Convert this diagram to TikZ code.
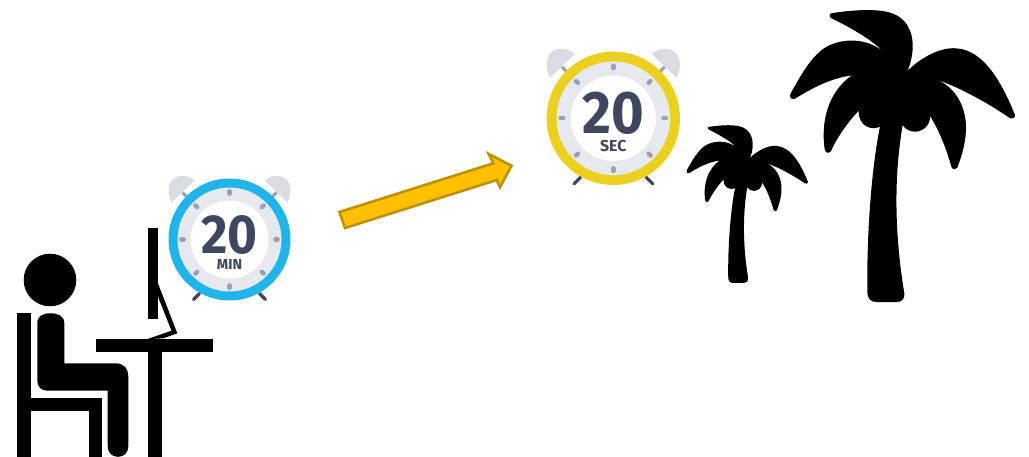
\documentclass[tikz,border=0pt]{standalone}
\usepackage{fontspec}
\setmainfont{Fira Sans}
\definecolor{ringblue}{HTML}{1FB4EA}
\definecolor{ringyellow}{HTML}{EBD01F}
\definecolor{facegrey}{HTML}{E6E9ED}
\definecolor{bellgrey}{HTML}{D9DDE1}
\definecolor{tickgrey}{HTML}{9AA0BA}
\definecolor{inkdark}{HTML}{3E4660}
\definecolor{arrowfill}{HTML}{FFC000}
\definecolor{arrowline}{HTML}{BF9000}
\tikzset{
    clocktick/.style={tickgrey, line width=4.4, line cap=round},
    clockfoot/.style={inkdark, line width=3.2, line cap=round},
    pics/alarmclock/.style n args={3}{code={
        \foreach \s in {1,-1} {
            \fill[bellgrey] (\s*35,-59) .. controls (\s*42,-65) and (\s*52,-65) .. (\s*57,-60)
                .. controls (\s*62,-55) and (\s*62,-45) .. (\s*58,-37) -- cycle;
            \draw[tickgrey, line width=3] (\s*47,-47) -- (\s*40,-40);
            \draw[clockfoot] (\s*30,54) -- (\s*36,60);
        }
        \fill[#1] (0,0) circle (61);
        \fill[facegrey] (0,0) circle (52);
        \fill[white] (0,0) circle (39);
        \foreach \a in {0,45,...,315} {
            \draw[clocktick, rotate=\a] (0,-45.8) -- (0,-48.2);
        }
        \node[inkdark, transform shape, xscale=.93, inner sep=0, font=\fontsize{55}{55}\selectfont\bfseries] (-number) at (0,-5) {#2};
        \node[inkdark, transform shape, inner sep=0, font=\fontsize{14.5}{14.5}\selectfont\bfseries] (-unit) at (0,25) {#3};
    }},
    pics/palmtree/.style={code={
        \fill[shift={(-618,-905)}] (452,40) .. controls (500,32) and (570,25) .. (620,35)
            .. controls (680,48) and (700,95) .. (698,145) .. controls (697,170) and (690,195) .. (683,212)
            .. controls (725,170) and (785,140) .. (830,145) .. controls (910,150) and (965,245) .. (1005,345)
            .. controls (1006,355) and (995,358) .. (988,353) .. controls (925,310) and (840,262) .. (768,238)
            .. controls (830,262) and (860,325) .. (858,390) .. controls (856,440) and (840,480) .. (832,503)
            .. controls (828,510) and (818,510) .. (814,500) .. controls (800,450) and (780,395) .. (750,348)
            .. controls (752,378) and (725,395) .. (705,395) .. controls (690,395) and (675,387) .. (668,375)
            .. controls (650,480) and (635,650) .. (673,880) .. controls (675,897) and (665,906) .. (650,906)
            -- (590,906) .. controls (570,906) and (561,895) .. (562,870)
            .. controls (560,700) and (575,500) .. (600,380) .. controls (575,392) and (535,380) .. (536,332)
            .. controls (500,370) and (470,415) .. (453,453) .. controls (448,461) and (436,460) .. (434,448)
            .. controls (423,370) and (440,280) .. (515,226) .. controls (450,235) and (395,265) .. (345,296)
            .. controls (336,300) and (325,292) .. (332,280) .. controls (360,230) and (395,165) .. (440,140)
            .. controls (500,108) and (570,120) .. (612,156) .. controls (570,115) and (510,82) .. (455,55)
            .. controls (447,50) and (447,43) .. (452,40) -- cycle;
    }}
}
\begin{document}
\begin{tikzpicture}[x=1pt, y=-1pt]
    \useasboundingbox (0,0) rectangle (1029,457);
    \fill (50,280) circle (26.3);
    \fill (17.3,313) rectangle (30.7,457);
    \fill (30.7,398.3) rectangle (102.3,411);
    \fill (89.3,411) rectangle (102.3,457);
    \fill (37.3,323) .. controls (37.3,316) and (43,313.3) .. (50.5,313.3)
        .. controls (58,313.3) and (64.3,316) .. (64.3,323) -- (64.3,363.3) -- (116,363.3)
        .. controls (124,363.3) and (128.3,369) .. (128.3,376) -- (128.3,446)
        .. controls (128.3,453) and (124,456.8) .. (118,456.8)
        .. controls (112,456.8) and (107.7,453) .. (107.7,446) -- (107.7,390.7) -- (47,390.7)
        .. controls (41,390.7) and (37.3,386) .. (37.3,381) -- cycle;
    \fill (96,339.3) rectangle (213.3,352.3);
    \fill (148.3,352.3) rectangle (161.7,457);
    \fill (148.3,228) rectangle (158.3,319.3);
    \fill (157.7,282.7) -- (177.3,333.3) -- (163.3,338.3) -- (146.7,339.3) -- (171.5,330.7) -- (157.7,296) -- cycle;
    \pic (minclock) at (229.5,239.5) {alarmclock={ringblue}{20}{MIN}};
    \pic[scale=1.093] (secclock) at (613.3,118.3) {alarmclock={ringyellow}{20}{SEC}};
    \draw[fill=arrowfill, draw=arrowline, line width=2.6] (339.5,212) -- (493.3,163.3) -- (488.8,154)
        -- (511.5,165.7) -- (500,187.3) -- (496.7,180) -- (345,228) -- cycle;
    \pic[scale=.18] (smallpalm) at (738.3,282.7) {palmtree};
    \pic[scale=.3333] (bigpalm) at (886,301.7) {palmtree};
\end{tikzpicture}
\end{document}
